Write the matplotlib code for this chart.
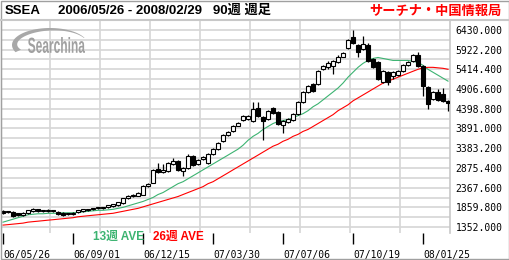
import numpy as np
import matplotlib
matplotlib.use('Agg')
import matplotlib.pyplot as plt
from matplotlib.patches import Polygon, PathPatch, Rectangle
from matplotlib.lines import Line2D
from matplotlib.textpath import TextPath
from matplotlib.font_manager import FontProperties
from matplotlib.transforms import Affine2D

# weekly candles, SSEA 2006/05/26 - 2008/02/29
opens = [1758, 1758, 1733, 1707, 1657, 1707, 1758, 1809, 1758, 1758,
         1784, 1733, 1720, 1682, 1682, 1733, 1758, 1809, 1809, 1834,
         1860, 1860, 1885, 1911, 1961, 2088, 2165, 2165, 2190, 2418,
         2495, 2850, 2774, 2799, 2977, 3053, 2799, 2875, 3180, 2977,
         3104, 3002, 3231, 3358, 3561, 3713, 3815, 3967, 4119, 4145,
         4094, 4424, 4196, 4145, 4424, 4323, 3993, 4069, 4119, 4272,
         4577, 4830, 5034, 5034, 5414, 5465, 5491, 5592, 5744, 5973,
         6252, 6049, 5948, 6049, 5668, 5592, 5084, 5338, 5237, 5262,
         5364, 5516, 5618, 5795, 5491, 4957, 4653, 4830, 4780, 4602]
highs = [1784, 1771, 1758, 1720, 1733, 1796, 1834, 1822, 1796, 1809,
         1796, 1758, 1733, 1720, 1733, 1796, 1822, 1822, 1847, 1872,
         1872, 1923, 1949, 1999, 2101, 2177, 2215, 2253, 2431, 2495,
         2850, 3002, 2977, 3027, 3129, 3078, 2901, 3231, 3205, 3104,
         3180, 3256, 3383, 3536, 3739, 3815, 3993, 4069, 4246, 4246,
         4577, 4577, 4221, 4373, 4450, 4348, 4119, 4170, 4297, 4602,
         4856, 5008, 5059, 5389, 5516, 5618, 5643, 5770, 5871, 6202,
         6430, 6075, 6278, 6100, 5694, 5618, 5389, 5364, 5364, 5389,
         5541, 5618, 5820, 5871, 5516, 4983, 4856, 4907, 4932, 4627]
lows = [1682, 1720, 1618, 1631, 1644, 1695, 1745, 1745, 1745, 1733,
        1745, 1669, 1644, 1669, 1669, 1720, 1745, 1771, 1796, 1822,
        1822, 1847, 1872, 1898, 1949, 2075, 2139, 2152, 2177, 2393,
        2482, 2748, 2748, 2774, 2952, 2799, 2672, 2850, 2926, 2952,
        3078, 2977, 3205, 3332, 3536, 3688, 3789, 3942, 4094, 4119,
        4069, 4196, 3586, 4119, 4272, 3993, 3764, 4043, 4094, 4246,
        4551, 4805, 4830, 5008, 5389, 5414, 5287, 5567, 5719, 5948,
        6075, 5744, 5922, 5592, 5440, 5135, 5059, 5008, 5160, 5237,
        5338, 5491, 5592, 5465, 4729, 4399, 4627, 4602, 4577, 4348]
closes = [1707, 1733, 1631, 1657, 1707, 1784, 1809, 1758, 1784, 1784,
          1758, 1682, 1657, 1707, 1707, 1784, 1809, 1784, 1834, 1860,
          1834, 1911, 1936, 1987, 2088, 2165, 2190, 2241, 2418, 2469,
          2825, 2774, 2825, 3002, 3053, 2825, 2875, 3180, 2952, 3078,
          3155, 3231, 3358, 3510, 3713, 3789, 3967, 4043, 4221, 4221,
          4399, 4221, 4094, 4348, 4297, 4018, 4094, 4145, 4272, 4577,
          4830, 4983, 4856, 5364, 5491, 5567, 5618, 5744, 5846, 6176,
          6100, 5871, 6075, 5618, 5465, 5160, 5364, 5084, 5338, 5364,
          5516, 5592, 5795, 5491, 4983, 4526, 4830, 4627, 4602, 4551]

ma13 = [1479, 1517, 1555, 1593, 1631, 1669, 1682, 1695, 1695, 1707,
        1707, 1707, 1720, 1720, 1720, 1733, 1745, 1758, 1771, 1784,
        1784, 1796, 1809, 1834, 1860, 1898, 1936, 1974, 2012, 2063,
        2114, 2190, 2241, 2317, 2393, 2469, 2520, 2596, 2672, 2748,
        2825, 2901, 2977, 3053, 3129, 3205, 3282, 3358, 3459, 3586,
        3688, 3764, 3866, 3942, 4018, 4069, 4094, 4119, 4170, 4221,
        4272, 4348, 4450, 4526, 4627, 4729, 4830, 4932, 5059, 5211,
        5338, 5465, 5567, 5643, 5694, 5719, 5694, 5668, 5643, 5643,
        5643, 5643, 5618, 5592, 5516, 5414, 5338, 5262, 5186, 5110]
ma26 = [1403, 1415, 1428, 1441, 1454, 1479, 1492, 1504, 1517, 1530,
        1542, 1555, 1568, 1581, 1593, 1618, 1631, 1644, 1657, 1669,
        1682, 1695, 1707, 1733, 1758, 1784, 1809, 1834, 1872, 1911,
        1949, 1987, 2025, 2063, 2101, 2139, 2190, 2241, 2291, 2342,
        2393, 2469, 2520, 2596, 2672, 2748, 2825, 2901, 2977, 3053,
        3129, 3205, 3282, 3358, 3434, 3485, 3561, 3612, 3688, 3739,
        3815, 3866, 3942, 4018, 4094, 4170, 4246, 4348, 4424, 4500,
        4602, 4678, 4754, 4830, 4907, 4983, 5059, 5110, 5160, 5211,
        5262, 5313, 5364, 5414, 5452, 5465, 5465, 5452, 5440, 5414]

date_ticks = [0, 14, 28, 42, 56, 70, 84]
date_labels = ['06/05/26', '06/09/01', '06/12/15', '07/03/30',
               '07/07/06', '07/10/19', '08/01/25']
price_ticks = [1352.0, 1859.8, 2367.6, 2875.4, 3383.2, 3891.0,
               4398.8, 4906.6, 5414.4, 5922.2, 6430.0]

W, H = 510, 260
GRID = '#d6d6d6'
GREEN = '#3cb371'
RED = '#ff0000'
CJK = ['Liberation Sans', 'Noto Sans CJK JP']

fig = plt.figure(figsize=(W / 100, H / 100), dpi=100)
ax = fig.add_axes([1 / W, (H - 233) / H, 449 / W, 213 / H])

step = price_ticks[1] - price_ticks[0]
ax.set_ylim(price_ticks[0] - step * 0.3, price_ticks[-1] + step * 0.5)
ax.set_xlim(-0.4, 89.4)

# grid: every half label step horizontally, every 50px vertically
minor = [p + step / 2 for p in price_ticks]
ax.set_yticks(price_ticks)
ax.set_yticks(minor, minor=True)
ax.set_yticklabels(['%.3f' % p for p in price_ticks])
ax.grid(True, axis='y', which='both', color=GRID, lw=1.2, zorder=0)
for px in range(50, 450, 50):
    ax.axvline((px - 3) / 5, color=GRID, lw=1.2, zorder=0)

ax.yaxis.tick_right()
ax.tick_params(axis='y', which='both', length=0, pad=4, labelsize=7)
for t in ax.get_yticklabels():
    t.set_fontfamily('DejaVu Sans Mono')

ax.set_xticks(date_ticks, date_labels)
ax.tick_params(axis='x', length=8, width=1, direction='out', pad=4, labelsize=7)
for t in ax.get_xticklabels():
    t.set_fontfamily('DejaVu Sans Mono')
    t.set_ha('left')
    t.set_x(0)

for s in ('top', 'bottom'):
    ax.spines[s].set_visible(False)
ax.spines['left'].set_color('#888888')
ax.spines['right'].set_color('#c8c8c8')
ax.spines['right'].set_linewidth(1.2)

# moving averages
x = np.arange(len(closes))
ax.plot(x, ma13, color=GREEN, lw=0.8, zorder=2)
ax.plot(x, ma26, color=RED, lw=0.8, zorder=2)

# candles
o = np.array(opens)
c = np.array(closes)
up = c >= o
ax.vlines(x, lows, highs, color='black', lw=0.9, zorder=3)
ax.bar(x[up], (c - o)[up], bottom=o[up], width=0.72, color='white',
       edgecolor='black', lw=0.8, zorder=4)
ax.bar(x[~up], (o - c)[~up], bottom=c[~up], width=0.72, color='black',
       edgecolor='black', lw=0.8, zorder=4)


def fx(px):
    return px / W


def fy(py):
    return 1 - py / H


# header
fig.add_artist(Line2D([0, 1], [fy(20), fy(20)], color='#c8c8c8', lw=1.5))
fig.text(fx(5), fy(10.5), 'SSEA', family=CJK, weight='bold', size=9.5, va='center')
fig.text(fx(58), fy(10.5), '2006/05/26 - 2008/02/29   90週 週足', family=CJK,
         weight='bold', size=9.5, va='center')
fig.text(fx(502), fy(10.5), 'サーチナ・中国情報局', family=['Noto Sans CJK JP'],
         weight='bold', size=9.5, color=RED, ha='right', va='center')

# legend
fig.text(fx(93), fy(236.5), '13週 AVE', family=CJK, weight='bold', size=8.5,
         color=GREEN, va='center')
fig.text(fx(153), fy(236.5), '26週 AVE', family=CJK, weight='bold', size=8.5,
         color=RED, va='center')

# Searchina logo
t = np.radians(np.linspace(25, 205, 60))
wid = 0.5 + 5.5 * (t - t[0]) / (t[-1] - t[0])
cx, cy, a, b = 50, 45, 38, 17
outer = [(fx(cx + a * np.cos(v)), fy(cy - b * np.sin(v))) for v in t]
inner = [(fx(cx + (a - w) * np.cos(v)), fy(cy - (b - w) * np.sin(v)))
         for v, w in zip(t[::-1], wid[::-1])]
fig.add_artist(Polygon(outer + inner, closed=True, transform=fig.transFigure,
                       facecolor='#a8a8a8', edgecolor='none', zorder=5))
tp = TextPath((0, 0), 'Searchina', size=10,
              prop=FontProperties(family='Liberation Sans', weight='bold'))
bb = tp.get_extents()
tr = (Affine2D().translate(-bb.x0, -bb.y0)
      .scale(57 / bb.width / W, 16 / bb.height / H)
      .translate(fx(28), fy(53)) + fig.transFigure)
fig.add_artist(PathPatch(tp, transform=tr, facecolor='#a0a0a0',
                         edgecolor='none', zorder=5))

fig.add_artist(Rectangle((0.001, 0.002), 0.997, 0.996, transform=fig.transFigure,
                         fill=False, edgecolor='#a0a0a0', lw=1))

fig.savefig('out.png', dpi=100)
